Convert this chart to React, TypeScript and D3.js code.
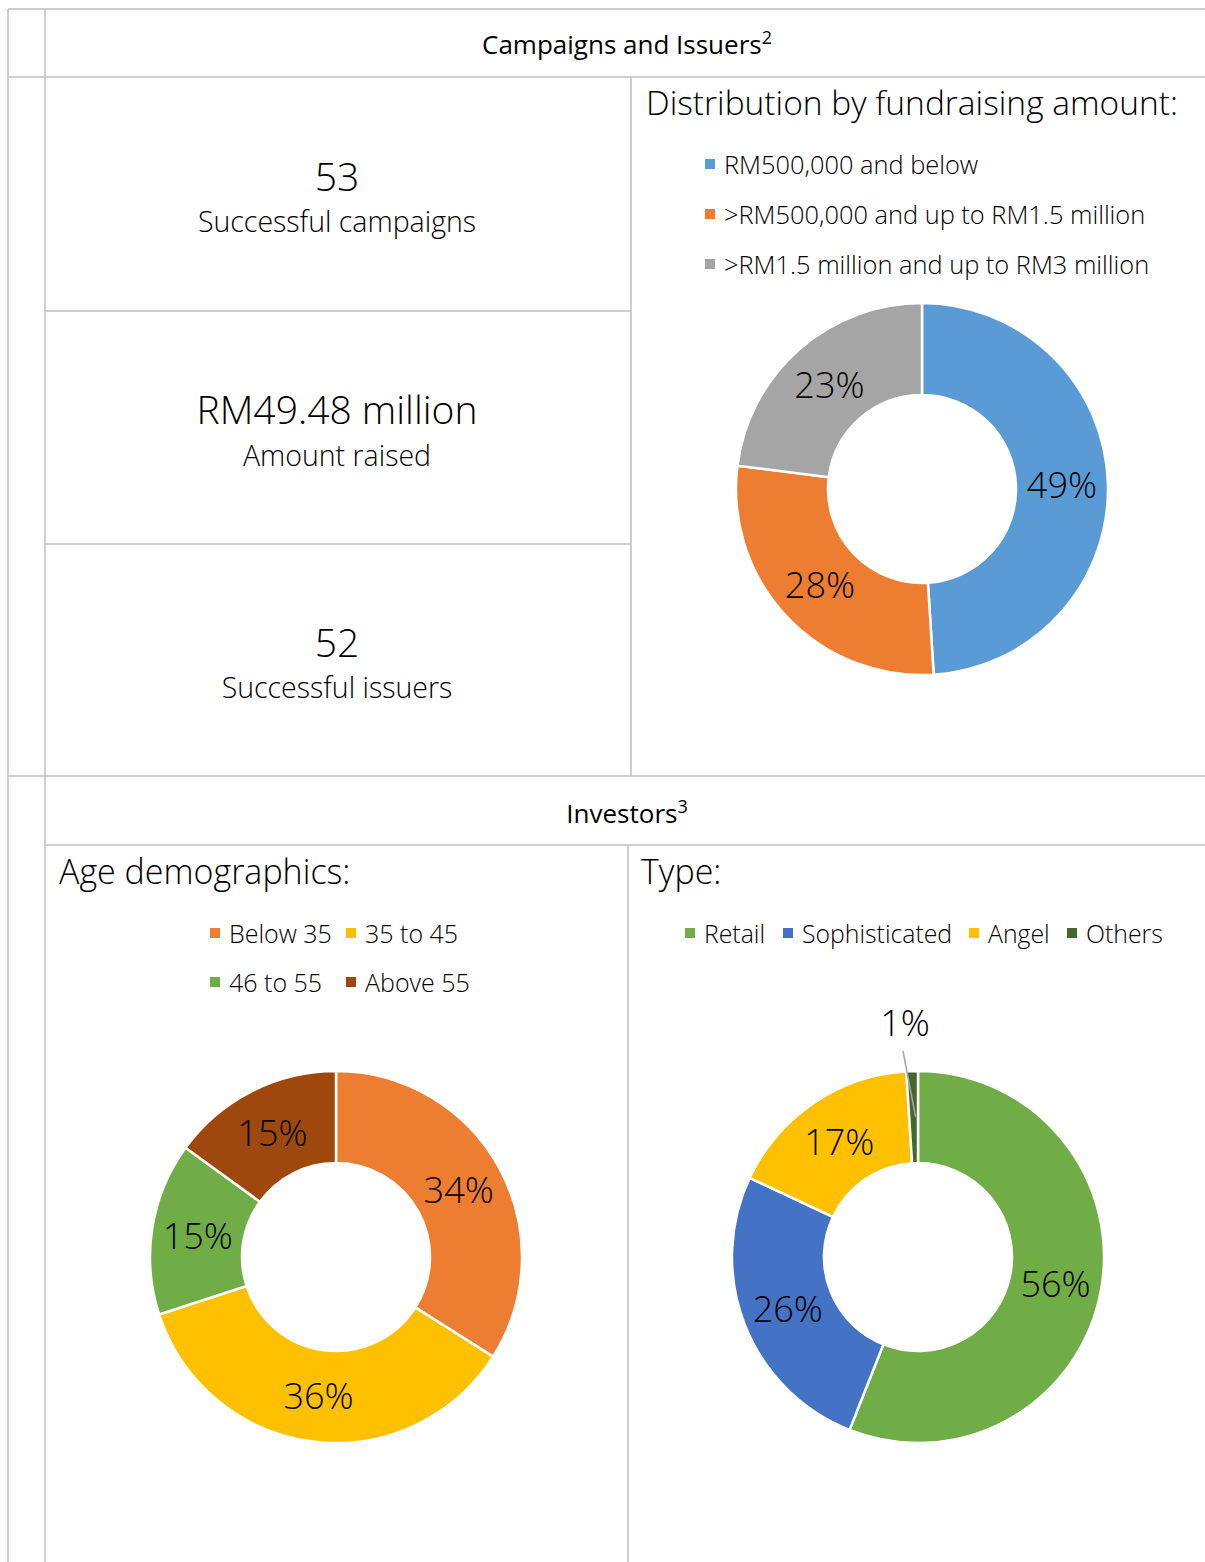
import React from "react";
import * as d3 from "d3";

const fundLabels = ["RM500,000 and below", ">RM500,000 and up to RM1.5 million", ">RM1.5 million and up to RM3 million"];
const fundValues = [49, 28, 23];
const fundColors = ["#5B9BD5", "#ED7D31", "#A5A5A5"];

const ageLabels = ["Below 35", "35 to 45", "46 to 55", "Above 55"];
const ageValues = [34, 36, 15, 15];
const ageColors = ["#ED7D31", "#FFC000", "#70AD47", "#9E480E"];

const typeLabels = ["Retail", "Sophisticated", "Angel", "Others"];
const typeValues = [56, 26, 17, 1];
const typeColors = ["#70AD47", "#4472C4", "#FFC000", "#43682B"];

const stats = [
  { big: "53", small: "Successful campaigns" },
  { big: "RM49.48 million", small: "Amount raised" },
  { big: "52", small: "Successful issuers" },
];

const FONT = "'Open Sans', sans-serif";
const GRID = "#BFBFBF";
const W = 1205;
const H = 1562;

type DonutProps = {
  cx: number;
  cy: number;
  values: number[];
  colors: string[];
};

function Donut({ cx, cy, values, colors }: DonutProps) {
  const pie = d3.pie<number>().sort(null).value((d) => d);
  const arcs = pie(values);
  const outer = 186;
  const inner = 94;
  const arc = d3.arc<d3.PieArcDatum<number>>().innerRadius(inner).outerRadius(outer);
  return (
    <g transform={`translate(${cx},${cy})`}>
      {arcs.map((a, i) => (
        <path key={i} d={arc(a) || ""} fill={colors[i]} stroke="#fff" strokeWidth={2.5} />
      ))}
      {arcs.map((a, i) => {
        const [x, y] = arc.centroid(a);
        if (a.data < 5) {
          const lx = -13;
          const ly = -235;
          return (
            <g key={"l" + i}>
              <line x1={lx - 2} y1={ly + 29} x2={x + 2} y2={y} stroke="#A5A5A5" strokeWidth={1.5} />
              <text x={lx} y={ly} textAnchor="middle" dominantBaseline="central" fontSize={36} fontWeight={300} fill="#000">
                {a.data}%
              </text>
            </g>
          );
        }
        return (
          <text key={"l" + i} x={x} y={y} textAnchor="middle" dominantBaseline="central" fontSize={36} fontWeight={300} fill="#000">
            {a.data}%
          </text>
        );
      })}
    </g>
  );
}

function LegendItem({ x, y, color, label, size }: { x: number; y: number; color: string; label: string; size: number }) {
  return (
    <g>
      <rect x={x} y={y - 5} width={10} height={10} fill={color} />
      <text x={x + 19} y={y} dominantBaseline="central" fontSize={size} fontWeight={300} fill="#000">
        {label}
      </text>
    </g>
  );
}

export default function App() {
  const cellTops = [77, 311, 544, 776];
  return (
    <svg
      width={W}
      height={H}
      style={{ position: "absolute", left: 0, top: 0, display: "block", background: "#fff" }}
      fontFamily={FONT}
    >
      <rect x={0} y={0} width={W} height={H} fill="#fff" />
      {/* grid lines */}
      <g stroke={GRID} strokeWidth={1.5}>
        <line x1={8} y1={9} x2={W} y2={9} />
        <line x1={8} y1={77} x2={W} y2={77} />
        <line x1={8} y1={776} x2={W} y2={776} />
        <line x1={45} y1={845} x2={W} y2={845} />
        <line x1={45} y1={311} x2={631} y2={311} />
        <line x1={45} y1={544} x2={631} y2={544} />
        <line x1={8} y1={9} x2={8} y2={H} />
        <line x1={45} y1={9} x2={45} y2={H} />
        <line x1={631} y1={77} x2={631} y2={776} />
        <line x1={628} y1={845} x2={628} y2={H} />
      </g>

      {/* headers */}
      <text x={627} y={44} textAnchor="middle" dominantBaseline="central" fontSize={26} fill="#000">
        Campaigns and Issuers
        <tspan fontSize={18} dy={-7}>2</tspan>
      </text>
      <text x={627} y={813} textAnchor="middle" dominantBaseline="central" fontSize={26} fill="#000">
        Investors
        <tspan fontSize={18} dy={-7}>3</tspan>
      </text>

      {/* stat cells */}
      {stats.map((s, i) => {
        const mid = (cellTops[i] + cellTops[i + 1]) / 2;
        return (
          <g key={i}>
            <text x={337} y={mid - 19} textAnchor="middle" dominantBaseline="central" fontSize={39} fontWeight={300} fill="#000">
              {s.big}
            </text>
            <text x={337} y={mid + 27} textAnchor="middle" dominantBaseline="central" fontSize={28.5} fontWeight={300} fill="#000">
              {s.small}
            </text>
          </g>
        );
      })}

      {/* fundraising distribution */}
      <text x={646} y={102} dominantBaseline="central" fontSize={33.5} fontWeight={300} fill="#000">
        Distribution by fundraising amount:
      </text>
      {fundLabels.map((l, i) => (
        <LegendItem key={i} x={705} y={164 + i * 50} color={fundColors[i]} label={l} size={25.4} />
      ))}
      <Donut cx={922} cy={489} values={fundValues} colors={fundColors} />

      {/* age */}
      <text x={59} y={871} dominantBaseline="central" fontSize={34} fontWeight={300} fill="#000">
        Age demographics:
      </text>
      {ageLabels.map((l, i) => (
        <LegendItem key={i} x={i % 2 === 0 ? 210 : 346} y={933 + Math.floor(i / 2) * 49} color={ageColors[i]} label={l} size={25} />
      ))}
      <Donut cx={336} cy={1257} values={ageValues} colors={ageColors} />

      {/* type */}
      <text x={641} y={871} dominantBaseline="central" fontSize={34} fontWeight={300} fill="#000">
        Type:
      </text>
      {typeLabels.map((l, i) => (
        <LegendItem key={i} x={[685, 783, 969, 1067][i]} y={933} color={typeColors[i]} label={l} size={24.8} />
      ))}
      <Donut cx={918} cy={1257} values={typeValues} colors={typeColors} />
    </svg>
  );
}
